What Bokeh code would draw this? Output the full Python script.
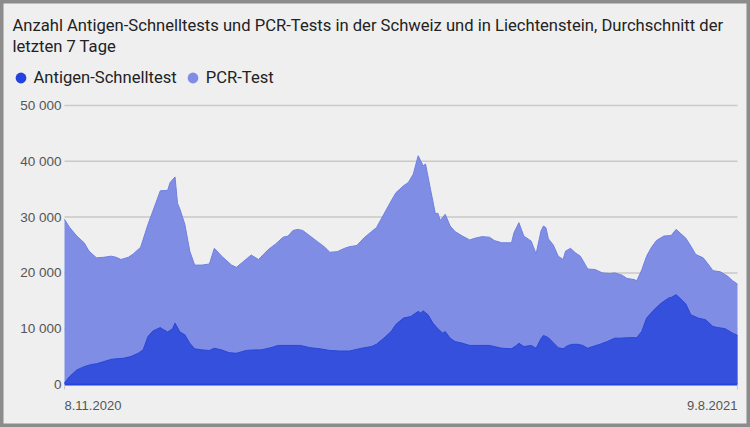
import pandas as pd
from bokeh.plotting import figure
from bokeh.models import (ColumnDataSource, Range1d, FixedTicker, Label,
                          Legend, LegendItem)
from bokeh.embed import file_html
from bokeh.resources import INLINE

# ---------------- data ----------------
START = "2020-11-08"
END = "2021-08-09"

# days since START, stacked top (Antigen + PCR)
total_days = [0, 2, 5, 8, 10, 13, 16, 19, 21, 23,
              26, 28, 31, 34, 36, 39, 42, 43, 45, 46,
              47, 49, 51, 53, 56, 59, 61, 64, 68, 70,
              73, 76, 79, 83, 86, 89, 91, 93, 95, 97,
              100, 103, 106, 108, 111, 114, 116, 119, 122, 125,
              127, 130, 133, 135, 138, 140, 142, 144, 146, 147,
              149, 151, 152, 153, 155, 157, 159, 162, 165, 167,
              170, 173, 175, 178, 182, 183, 185, 187, 189, 190,
              192, 194, 195, 196, 197, 199, 201, 203, 204, 206,
              208, 210, 212, 213, 216, 219, 222, 224, 227, 229,
              232, 233, 235, 237, 239, 241, 244, 247, 249, 251,
              253, 255, 257, 260, 262, 264, 267, 270, 272, 274]
total_tests = [29600, 28200, 26600, 25400, 23900, 22700, 22800, 23000, 22800, 22400,
               22800, 23400, 24600, 28700, 31100, 34700, 34800, 36200, 37200, 32500,
               31400, 28700, 23900, 21400, 21400, 21600, 24400, 23000, 21400, 21000,
               22100, 23200, 22400, 24200, 25200, 26400, 26600, 27600, 27800, 27600,
               26600, 25600, 24600, 23700, 23800, 24400, 24700, 24900, 26300, 27400,
               28100, 30500, 32900, 34400, 35600, 36200, 37700, 41000, 39200, 39500,
               35000, 30600, 30700, 29400, 30500, 28400, 27400, 26600, 25900, 26200,
               26500, 26400, 25800, 25400, 25400, 27200, 29000, 26600, 26000, 25700,
               23400, 27500, 28400, 28100, 26100, 25000, 23000, 22400, 23900, 24400,
               23600, 23000, 21500, 20700, 20600, 20000, 19900, 20000, 19600, 19000,
               18800, 18600, 20500, 23000, 24600, 25800, 26600, 26700, 27800, 27000,
               26200, 24800, 23300, 22700, 21600, 20400, 20200, 19400, 18600, 18000]

antigen_days = [0, 2, 5, 8, 11, 13, 16, 19, 21, 24,
                27, 30, 32, 34, 36, 39, 40, 42, 44, 45,
                47, 49, 51, 53, 56, 59, 61, 64, 67, 70,
                74, 77, 80, 84, 87, 91, 96, 100, 104, 108,
                112, 116, 121, 125, 127, 130, 133, 135, 138, 141,
                144, 145, 146, 148, 150, 152, 154, 155, 157, 159,
                162, 165, 169, 173, 175, 178, 182, 184, 185, 187,
                190, 192, 194, 195, 197, 199, 201, 203, 205, 207,
                209, 211, 213, 215, 218, 221, 224, 226, 230, 233,
                235, 237, 240, 243, 246, 247, 249, 251, 253, 255,
                258, 261, 264, 266, 269, 272, 274]
antigen_tests = [300, 1400, 2600, 3200, 3600, 3700, 4100, 4500, 4600, 4700,
                 5000, 5600, 6200, 8600, 9600, 10200, 9900, 9400, 10000, 11000,
                 9400, 8900, 7400, 6400, 6200, 6100, 6500, 6200, 5700, 5600,
                 6100, 6200, 6200, 6600, 7000, 7000, 7000, 6600, 6400, 6100,
                 6000, 6000, 6500, 6800, 7200, 8300, 9500, 10800, 11900, 12200,
                 13100, 12800, 13200, 12500, 11000, 10000, 9200, 9500, 8300, 7700,
                 7400, 7000, 7000, 7000, 6800, 6500, 6400, 7000, 7400, 6800,
                 7000, 6500, 8200, 8800, 8400, 7500, 6600, 6400, 7000, 7200,
                 7200, 7000, 6500, 6800, 7200, 7700, 8300, 8300, 8400, 8400,
                 9500, 11900, 13400, 14600, 15500, 15600, 16100, 15300, 14400, 12500,
                 11900, 11600, 10400, 10200, 10000, 9200, 8800]

y_ticks = [0, 10000, 20000, 30000, 40000, 50000]
y_tick_labels = ["0", "10 000", "20 000", "30 000", "40 000", "50 000"]
x_end_labels = ["8.11.2020", "9.8.2021"]
series_names = ["Antigen-Schnelltest", "PCR-Test"]
title_lines = ["Anzahl Antigen-Schnelltests und PCR-Tests in der Schweiz und in Liechtenstein, Durchschnitt der",
               "letzten 7 Tage"]

assert len(total_days) == len(total_tests)
assert len(antigen_days) == len(antigen_tests)

# ---------------- layout (pixels) ----------------
W, H = 750, 427
PLOT_L, PLOT_R = 64, 737      # x of first / last date
PLOT_T, PLOT_B = 105, 384     # y of 50 000 / 0
Y_TOP = 50000

# ---------------- styling ----------------
BG = "#efefef"
DARK = "#3450dc"
DARK_DOT = "#2343e0"
DARK_LINE = "#2a46d8"
LIGHT = "#7f8de5"
LIGHT_LINE = "#6f80e2"
GRID = "#c9c9c9"
TEXT = "#222222"
TICK_TEXT = "#555555"
FONT = "Roboto"
FS = "16.6px"

start = pd.Timestamp(START)
end = pd.Timestamp(END)
span = end - start
px_time = span / (PLOT_R - PLOT_L)
x_lo = start - px_time * PLOT_L
x_hi = end + px_time * (W - PLOT_R)
px_val = Y_TOP / (PLOT_B - PLOT_T)
y_lo = -px_val * (H - PLOT_B)
y_hi = Y_TOP + px_val * PLOT_T

total_dates = [start + pd.Timedelta(days=d) for d in total_days]
antigen_dates = [start + pd.Timedelta(days=d) for d in antigen_days]

src_total = ColumnDataSource(dict(date=total_dates, top=total_tests))
src_antigen = ColumnDataSource(dict(date=antigen_dates, top=antigen_tests))
src_grid = ColumnDataSource(dict(x0=[start] * len(y_ticks), x1=[end] * len(y_ticks), y=y_ticks))

p = figure(width=W, height=H, x_axis_type="datetime",
           x_range=Range1d(x_lo, x_hi), y_range=Range1d(y_lo, y_hi),
           output_backend="svg", toolbar_location=None,
           min_border=0,
           background_fill_color=BG, border_fill_color=BG,
           outline_line_color="#8c8c8c", outline_line_width=6)
p.xgrid.visible = False
p.ygrid.visible = False

# horizontal grid lines between first and last date
p.segment(x0="x0", x1="x1", y0="y", y1="y", source=src_grid,
          line_color=GRID, line_width=1.5)

# areas
p.varea(x="date", y1=0, y2="top", source=src_total, fill_color=LIGHT)
p.line(x="date", y="top", source=src_total, line_color=LIGHT_LINE, line_width=1)
p.varea(x="date", y1=0, y2="top", source=src_antigen, fill_color=DARK)
p.line(x="date", y="top", source=src_antigen, line_color=DARK_LINE, line_width=1)

# y axis anchored at the first date
start_ms = start.value // 10**6
end_ms = end.value // 10**6
p.yaxis.fixed_location = start_ms
p.yaxis.ticker = FixedTicker(ticks=y_ticks)
p.yaxis.major_label_overrides = {t: l for t, l in zip(y_ticks, y_tick_labels)}
p.yaxis.axis_line_color = None
p.yaxis.major_tick_line_color = None
p.yaxis.major_tick_out = 0
p.yaxis.major_tick_in = 0
p.yaxis.minor_tick_line_color = None
p.yaxis.major_label_text_font = "Liberation Sans"
p.yaxis.major_label_text_font_size = "13.5px"
p.yaxis.major_label_text_color = TICK_TEXT
p.yaxis.major_label_standoff = 3

# x axis on the value 0, between first and last date
p.xaxis.fixed_location = 0
p.xaxis.bounds = (start_ms, end_ms)
p.xaxis.ticker = FixedTicker(ticks=[start_ms, end_ms])
p.xaxis.major_label_overrides = {start_ms: "", end_ms: ""}
p.xaxis.axis_line_color = "#2444e0"
p.xaxis.axis_line_width = 2
p.xaxis.major_tick_in = 0
p.xaxis.major_tick_out = 5
p.xaxis.major_tick_line_color = "#c8c8c8"
p.xaxis.minor_tick_line_color = None

for xv, txt, align in [(start, x_end_labels[0], "left"), (end, x_end_labels[1], "right")]:
    p.add_layout(Label(x=xv, y=H - 405, y_units="screen", text=txt, text_align=align,
                       text_baseline="alphabetic", text_font="Liberation Sans",
                       text_font_size="13px", text_color=TICK_TEXT))

# title
for i, line in enumerate(title_lines):
    p.add_layout(Label(x=12, y=H - 25 - 21 * i, x_units="screen", y_units="screen",
                       text=line, text_baseline="alphabetic", text_font=FONT,
                       text_font_size=FS, text_color=TEXT))

# legend (dot markers; hidden scatter renderers only supply the legend glyphs)
r_a = p.scatter(x="date", y="top", source=src_antigen, marker="circle",
                fill_color=DARK_DOT, line_color=None, visible=False)
r_p = p.scatter(x="date", y="top", source=src_total, marker="circle",
                fill_color=LIGHT, line_color=None, visible=False)
legend = Legend(items=[LegendItem(label=series_names[0], renderers=[r_a]),
                       LegendItem(label=series_names[1], renderers=[r_p])],
                orientation="horizontal", location=(6.5, H - 91),
                glyph_width=27, glyph_height=27, label_standoff=-4, spacing=2,
                padding=0, margin=0, border_line_color=None,
                background_fill_alpha=0, label_text_font=FONT,
                label_text_font_size=FS, label_text_color=TEXT)
p.add_layout(legend)

open("out.html", "w").write(file_html(p, INLINE))
